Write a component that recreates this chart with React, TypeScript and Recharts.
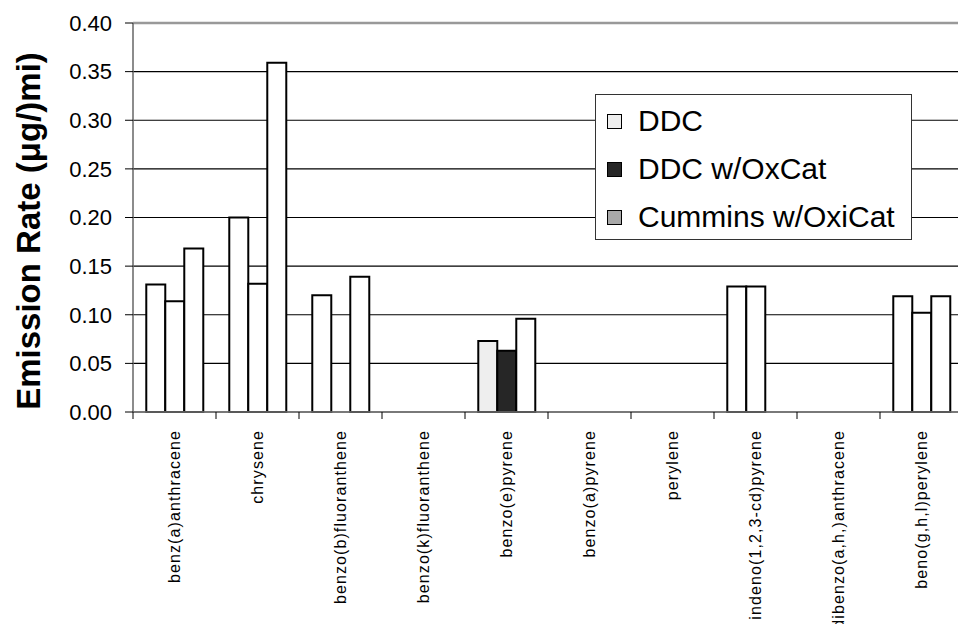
import React from 'react';
import { BarChart, Bar, XAxis, YAxis, CartesianGrid, Cell, Legend, ReferenceLine } from 'recharts';

const categories = [
  'benz(a)anthracene',
  'chrysene',
  'benzo(b)fluoranthene',
  'benzo(k)fluoranthene',
  'benzo(e)pyrene',
  'benzo(a)pyrene',
  'perylene',
  'indeno(1,2,3-cd)pyrene',
  'dibenzo(a,h,)anthracene',
  'beno(g,h,l)perylene',
];

const ddc = [0.131, 0.2, 0.12, null, 0.073, null, null, 0.129, null, 0.119];
const ddcOxCat = [0.114, 0.132, null, null, 0.063, null, null, 0.129, null, 0.102];
const cumminsOxiCat = [0.168, 0.359, 0.139, null, 0.096, null, null, null, null, 0.119];

const yTicks = [0, 0.05, 0.1, 0.15, 0.2, 0.25, 0.3, 0.35, 0.4];
const seriesNames = ['DDC', 'DDC w/OxCat', 'Cummins w/OxiCat'];

const FONT = "Arial, 'Liberation Sans', sans-serif";
const LIGHT = '#eeeeee';
const DARK = '#262626';
const MID = '#a8a8a8';

const data = categories.map((name, i) => ({
  name,
  ddc: ddc[i],
  ddcOxCat: ddcOxCat[i],
  cumminsOxiCat: cumminsOxiCat[i],
}));

const XTick = (props: any) => {
  const { x, y, payload } = props;
  const half = payload && payload.offset ? payload.offset : 41.5;
  const tx = x - half;
  return (
    <g>
      <line x1={tx} y1={y} x2={tx} y2={y + 7} stroke="#000" strokeWidth={1} />
      <text
        x={x}
        y={y + 18}
        dy="0.36em"
        transform={`rotate(-90, ${x}, ${y + 18})`}
        textAnchor="end"
        fontFamily={FONT}
        fontSize={16}
        letterSpacing={1.1}
        fill="#000"
      >
        {payload.value}
      </text>
    </g>
  );
};

const YTitle = () => (
  <text
    x={40}
    y={231}
    transform="rotate(-90, 40, 231)"
    textAnchor="middle"
    fontFamily={FONT}
    fontSize={33}
    fontWeight="bold"
    fill="#000"
  >
    Emission Rate (μg/)mi)
  </text>
);

const LegendBox = () => {
  const swatches = [LIGHT, DARK, MID];
  return (
    <div
      style={{
        width: 315,
        height: 142,
        border: '1.5px solid #333',
        background: '#fff',
        boxSizing: 'content-box',
        paddingTop: 2,
        fontFamily: FONT,
      }}
    >
      {seriesNames.map((n, i) => (
        <div key={n} style={{ height: 48, display: 'flex', alignItems: 'center' }}>
          <div
            style={{
              width: 13,
              height: 13,
              marginLeft: 11,
              marginRight: 16,
              border: '1.2px solid #000',
              background: swatches[i],
            }}
          />
          <span style={{ fontSize: 30, color: '#000', lineHeight: '48px', whiteSpace: 'nowrap' }}>{n}</span>
        </div>
      ))}
    </div>
  );
};

export default function App() {
  return (
    <div
      style={{
        position: 'fixed',
        left: 0,
        top: 0,
        width: 958,
        height: 624,
        overflow: 'hidden',
        background: '#fff',
      }}
    >
      <BarChart
        width={965}
        height={624}
        data={data}
        margin={{ top: 23, right: 2, left: 0, bottom: 0 }}
        barCategoryGap="16%"
        barGap={0}
      >
        <CartesianGrid horizontal vertical={false} stroke="#000" strokeWidth={1.2} />
        <XAxis
          dataKey="name"
          height={212}
          interval={0}
          tick={<XTick />}
          tickLine={false}
          tickSize={0}
          tickMargin={0}
          axisLine={{ stroke: '#777', strokeWidth: 1.5 }}
        />
        <YAxis
          width={133}
          domain={[0, 0.4]}
          ticks={yTicks}
          interval={0}
          tickFormatter={(v: number) => v.toFixed(2)}
          tick={{ fontSize: 22, fill: '#000', fontFamily: FONT }}
          tickSize={8}
          tickMargin={13}
          tickLine={{ stroke: '#000' }}
          axisLine={{ stroke: '#666', strokeWidth: 1.5 }}
          label={<YTitle />}
        />
        <ReferenceLine y={0.4} stroke="#999" strokeWidth={2.5} />
        <Legend
          layout="horizontal"
          verticalAlign="middle"
          align="center"
          content={<LegendBox />}
          wrapperStyle={{ position: 'absolute', left: 595, top: 94, width: 320, height: 148 }}
        />
        <Bar dataKey="ddc" name={seriesNames[0]} stroke="#000" strokeWidth={2} fill="#fff" isAnimationActive={false}>
          {categories.map((c, i) => (
            <Cell key={c} fill={i === 4 ? LIGHT : '#fff'} />
          ))}
        </Bar>
        <Bar dataKey="ddcOxCat" name={seriesNames[1]} stroke="#000" strokeWidth={2} fill="#fff" isAnimationActive={false}>
          {categories.map((c, i) => (
            <Cell key={c} fill={i === 4 ? DARK : '#fff'} />
          ))}
        </Bar>
        <Bar dataKey="cumminsOxiCat" name={seriesNames[2]} stroke="#000" strokeWidth={2} fill="#fff" isAnimationActive={false} />
      </BarChart>
    </div>
  );
}
